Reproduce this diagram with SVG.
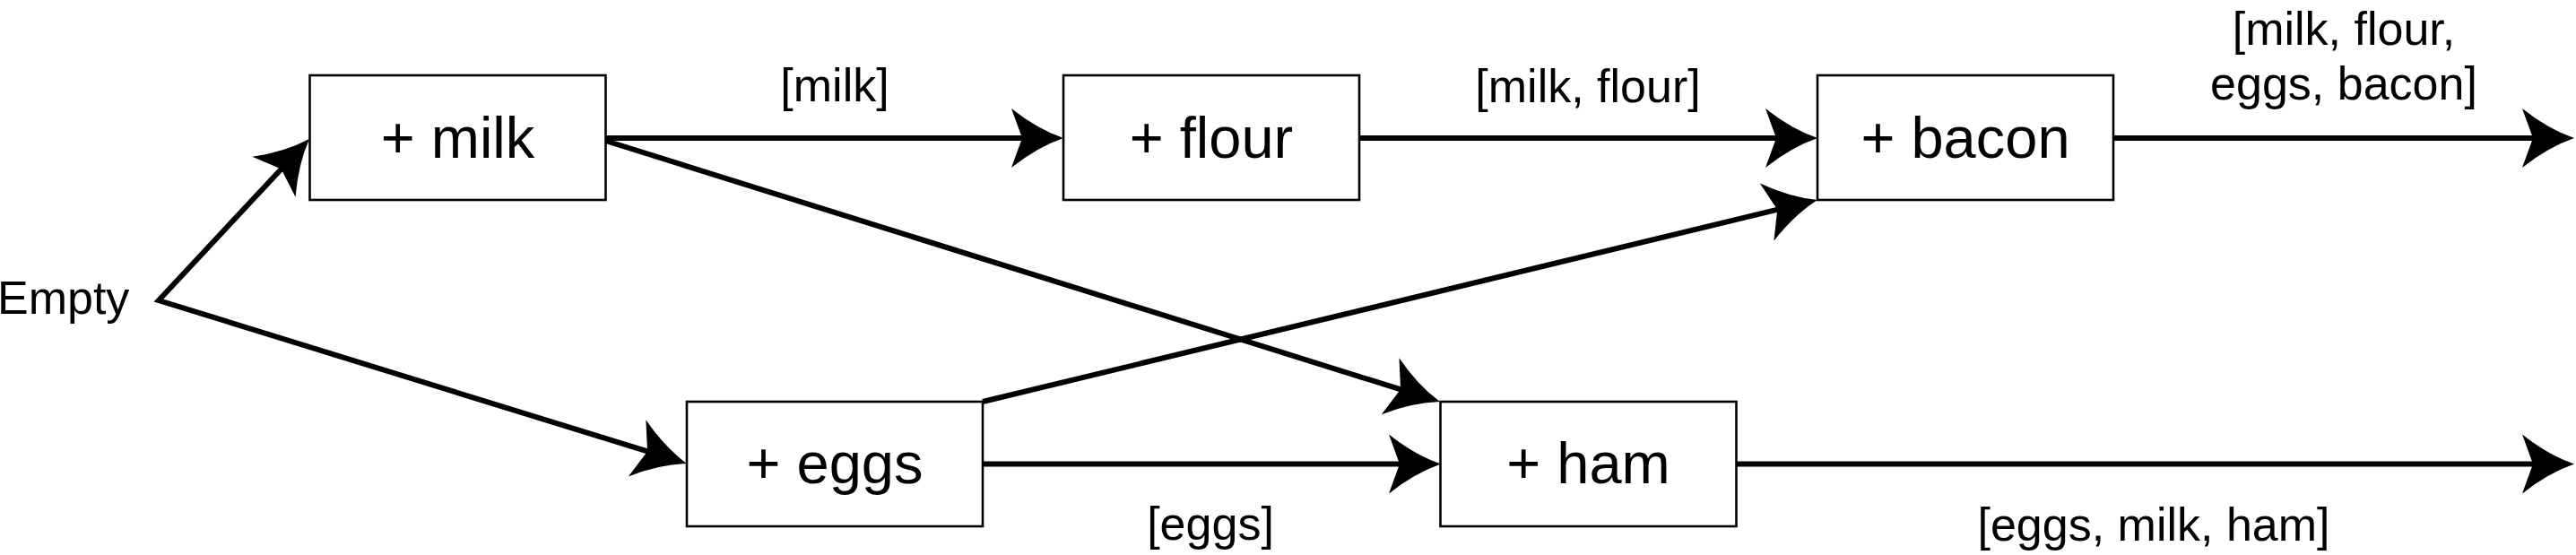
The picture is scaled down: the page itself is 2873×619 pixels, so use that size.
<svg xmlns="http://www.w3.org/2000/svg" width="2873" height="619" viewBox="0 0 2873 619">
  <style>
    .box { fill: #ffffff; stroke: #000000; stroke-width: 2.6; }
    .node-text { font-family: "Liberation Sans", Arial, sans-serif; font-size: 65px; fill: #000000; text-anchor: middle; }
    .label { font-family: "Liberation Sans", Arial, sans-serif; font-size: 52px; fill: #000000; text-anchor: middle; }
    .conn { fill: none; stroke: #000000; stroke-width: 6; stroke-linejoin: miter; stroke-miterlimit: 10; }
  </style>
  <defs>
    <marker id="arrow" markerUnits="userSpaceOnUse" viewBox="0 0 62 70" refX="20" refY="35" markerWidth="62" markerHeight="70" orient="auto-start-reverse" overflow="visible">
      <path d="M60,35 Q31,25 2,2 L14,35 L2,68 Q31,45 60,35 Z" fill="#000000"/>
    </marker>
  </defs>
  <rect width="2873" height="619" fill="#ffffff"/>

  <g id="connectors">
    <path class="conn" d="M317.7,184.2 L177,335 L727.8,505.2" marker-start="url(#arrow)" marker-end="url(#arrow)"/>
    <path class="conn" d="M675.5,154 L1146,154" marker-end="url(#arrow)"/>
    <path class="conn" d="M1516,154 L1987,154" marker-end="url(#arrow)"/>
    <path class="conn" d="M2357,154 L2831,154" marker-end="url(#arrow)"/>
    <path class="conn" d="M675.5,157 L1567.8,436.1" marker-end="url(#arrow)"/>
    <path class="conn" d="M1096,448 L1988.1,232.4" marker-end="url(#arrow)"/>
    <path class="conn" d="M1096,517.5 L1567,517.5" marker-end="url(#arrow)"/>
    <path class="conn" d="M1936.5,517.5 L2831,517.5" marker-end="url(#arrow)"/>
  </g>

  <g id="labels">
    <text class="label" x="931" y="113">[milk]</text>
    <text class="label" x="1771" y="114">[milk, flour]</text>
    <text class="label" x="2614" y="50">[milk, flour,</text>
    <text class="label" x="2614" y="111">eggs, bacon]</text>
    <text class="label" x="1350" y="602">[eggs]</text>
    <text class="label" x="2402" y="603">[eggs, milk, ham]</text>
  </g>

  <g id="node-empty">
    <text x="-3" y="350" font-family="Liberation Sans, Arial, sans-serif" font-size="52" fill="#000000">Empty</text>
  </g>
  <g id="node-milk">
    <rect class="box" x="345.5" y="84" width="330" height="139"/>
    <text class="node-text" x="510.5" y="175.5">+ milk</text>
  </g>
  <g id="node-flour">
    <rect class="box" x="1186" y="84" width="330" height="139"/>
    <text class="node-text" x="1351" y="175.5">+ flour</text>
  </g>
  <g id="node-bacon">
    <rect class="box" x="2027" y="84" width="330" height="139"/>
    <text class="node-text" x="2192" y="175.5">+ bacon</text>
  </g>
  <g id="node-eggs">
    <rect class="box" x="766" y="448" width="330" height="139"/>
    <text class="node-text" x="931" y="538.5">+ eggs</text>
  </g>
  <g id="node-ham">
    <rect class="box" x="1606.5" y="448" width="330" height="139"/>
    <text class="node-text" x="1771.5" y="538.5">+ ham</text>
  </g>
</svg>
